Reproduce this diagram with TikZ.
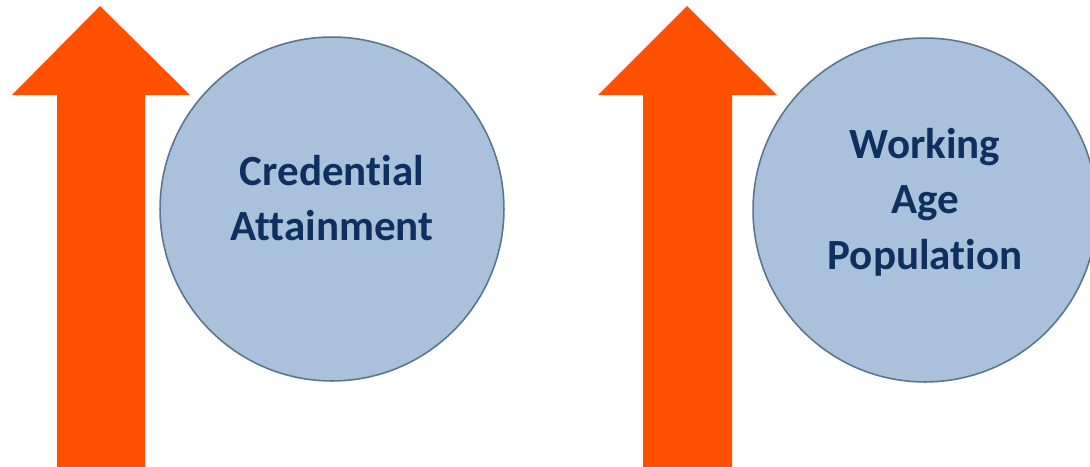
\documentclass[tikz,border=0pt]{standalone}
\usepackage{fontspec}
\setmainfont{Carlito}[Ligatures=NoCommon]
\usepackage{xcolor}
\definecolor{Arroworange}{HTML}{FF5000}
\definecolor{Circleblue}{HTML}{A9C1DA}
\definecolor{Circleedge}{HTML}{5A7593}
\definecolor{Textnavy}{HTML}{0F2F5E}
\usetikzlibrary{positioning}
\tikzset{
    bubble/.style = {circle, draw=Circleedge, fill=Circleblue, line width=0.9pt, minimum size=6.88cm, inner sep=0pt},
    bubbletext/.style = {align=center, text=Textnavy, font=\bfseries\fontsize{24.5}{31.5}\selectfont},
    uparrow/.style = {fill=Arroworange, draw=none}
}

\begin{document}
\begin{tikzpicture}[x=0.02cm, y=-0.02cm]
    \useasboundingbox (0,0) rectangle (1090,467);
    \clip (0,0) rectangle (1090,467);
    % Left arrow
    \path[uparrow] (57,467) -- (57,95) -- (12,95) -- (100,6) -- (190,95) -- (145,95) -- (145,467) -- cycle;
    % Right arrow
    \path[uparrow] (643,467) -- (643,95) -- (598,95) -- (687,6) -- (777,95) -- (732,95) -- (732,467) -- cycle;
    % Circles
    \node[bubble] (cred) at (332,209) {};
    \node[bubble] (work) at (925,210) {};
    % Labels
    \node[bubbletext] (credtext) at (332,198) {Credential\\Attainment};
    \node[bubbletext] (worktext) at (925,202) {Working\\Age\\Population};
\end{tikzpicture}
\end{document}
